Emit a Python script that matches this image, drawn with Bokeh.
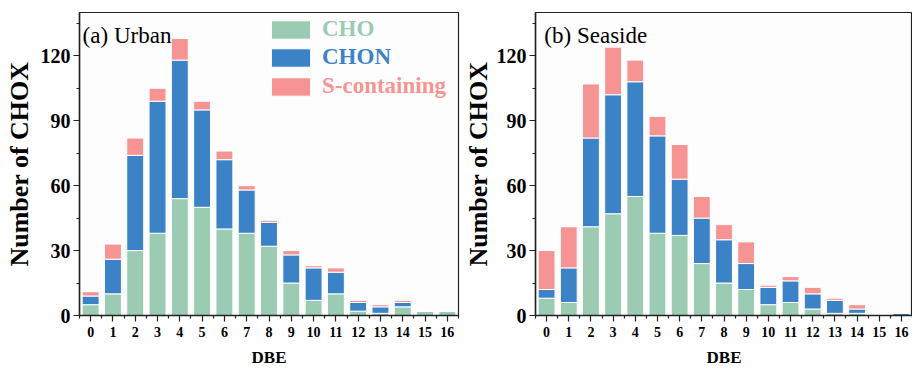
from bokeh.plotting import figure
from bokeh.layouts import row
from bokeh.models import ColumnDataSource, Range1d, FixedTicker, Label, Legend, LegendItem
from bokeh.embed import file_html
from bokeh.resources import INLINE

dbe = list(range(17))
dbe_labels = [str(i) for i in dbe]

urban_cho = [5, 10, 30, 38, 54, 50, 40, 38, 32, 15, 7, 10, 2, 1, 4, 2, 2]
urban_chon = [4, 16, 44, 61, 64, 45, 32, 20, 11, 13, 15, 10, 4, 3, 2, 0, 0]
urban_s = [2, 7, 8, 6, 10, 4, 4, 2, 1, 2, 1, 2, 1, 1, 1, 0, 0]

seaside_cho = [8, 6, 41, 47, 55, 38, 37, 24, 15, 12, 5, 6, 3, 1, 1, 0, 0]
seaside_chon = [4, 16, 41, 55, 53, 45, 26, 21, 20, 12, 8, 10, 7, 6, 2, 0, 1]
seaside_s = [18, 19, 25, 22, 10, 9, 16, 10, 7, 10, 1, 2, 3, 1, 2, 0, 0]

y_ticks = [0, 30, 60, 90, 120]
series_names = ["CHO", "CHON", "S-containing"]
colors = ["#9ccbb3", "#3b83c6", "#f69494"]
FONT = "Liberation Serif"


def make_panel(cho, chon, s, title, width, left_border, right_border, legend, title_x, label_standoff):
    src = ColumnDataSource(dict(x=dbe, CHO=cho, CHON=chon, S=s))
    p = figure(width=width, height=369, output_backend="svg", toolbar_location=None,
               x_range=Range1d(-0.5, 16.5), y_range=Range1d(0, 140),
               min_border_left=left_border, min_border_right=right_border,
               min_border_top=12, min_border_bottom=51)
    rs = p.vbar_stack(["CHO", "CHON", "S"], x="x", width=0.76, source=src,
                      color=colors, line_color="white", line_width=1)
    p.xgrid.visible = False
    p.ygrid.visible = False
    p.outline_line_color = "#222222"
    p.outline_line_width = 1.2
    p.background_fill_color = "#fdfdfd"
    p.border_fill_color = "white"

    p.xaxis.ticker = FixedTicker(ticks=dbe, minor_ticks=[i + 0.5 for i in range(-1, 17)])
    p.xaxis.major_label_overrides = {i: l for i, l in zip(dbe, dbe_labels)}
    p.yaxis.ticker = FixedTicker(ticks=y_ticks, minor_ticks=[15, 45, 75, 105, 135])
    for ax in (p.xaxis[0], p.yaxis[0]):
        ax.axis_line_color = "#222222"
        ax.axis_line_width = 1.5
        ax.major_tick_line_color = "#222222"
        ax.minor_tick_line_color = "#222222"
        ax.major_tick_line_width = 1.2
        ax.minor_tick_line_width = 1.2
        ax.major_tick_out = 6
        ax.major_tick_in = 0
        ax.minor_tick_out = 3
        ax.minor_tick_in = 0
        ax.major_label_text_font = FONT
        ax.major_label_text_font_style = "bold"
        ax.major_label_text_color = "black"
        ax.axis_label_text_font = FONT
        ax.axis_label_text_font_style = "bold"
        ax.axis_label_text_color = "black"
    p.xaxis.major_label_text_font_size = "14px"
    p.xaxis.major_label_standoff = 5
    p.xaxis.axis_label = "DBE"
    p.xaxis.axis_label_text_font_size = "17px"
    p.xaxis.axis_label_standoff = 8
    p.yaxis.major_label_text_font_size = "20px"
    p.yaxis.major_label_standoff = 3
    p.yaxis.axis_label = "Number of CHOX"
    p.yaxis.axis_label_text_font_size = "26px"
    p.yaxis.axis_label_standoff = label_standoff

    p.add_layout(Label(x=title_x, y=129.5, text=title,
                       text_font=FONT, text_font_size="23px", text_color="black",
                       text_baseline="alphabetic"))

    if legend:
        tops = [273, 245, 216]
        for r, name, c, yy in zip(rs, series_names, colors, tops):
            lg = Legend(items=[LegendItem(label=name, renderers=[r])],
                        location=(187, yy), orientation="vertical",
                        glyph_width=49, glyph_height=23, label_height=23,
                        label_standoff=7, padding=0, margin=0, spacing=0,
                        border_line_color=None, background_fill_alpha=0,
                        label_text_font=FONT, label_text_font_style="bold",
                        label_text_font_size="23px", label_text_color=c)
            p.add_layout(lg)
    return p


p1 = make_panel(urban_cho, urban_chon, urban_s, "(a) Urban", 460, 79, 2, True, -0.36, 4)
p2 = make_panel(seaside_cho, seaside_chon, seaside_s, "(b) Seaside", 452, 74, 0, False, -0.1, 1)

layout = row(p1, p2)
open("out.html", "w").write(file_html(layout, INLINE))
